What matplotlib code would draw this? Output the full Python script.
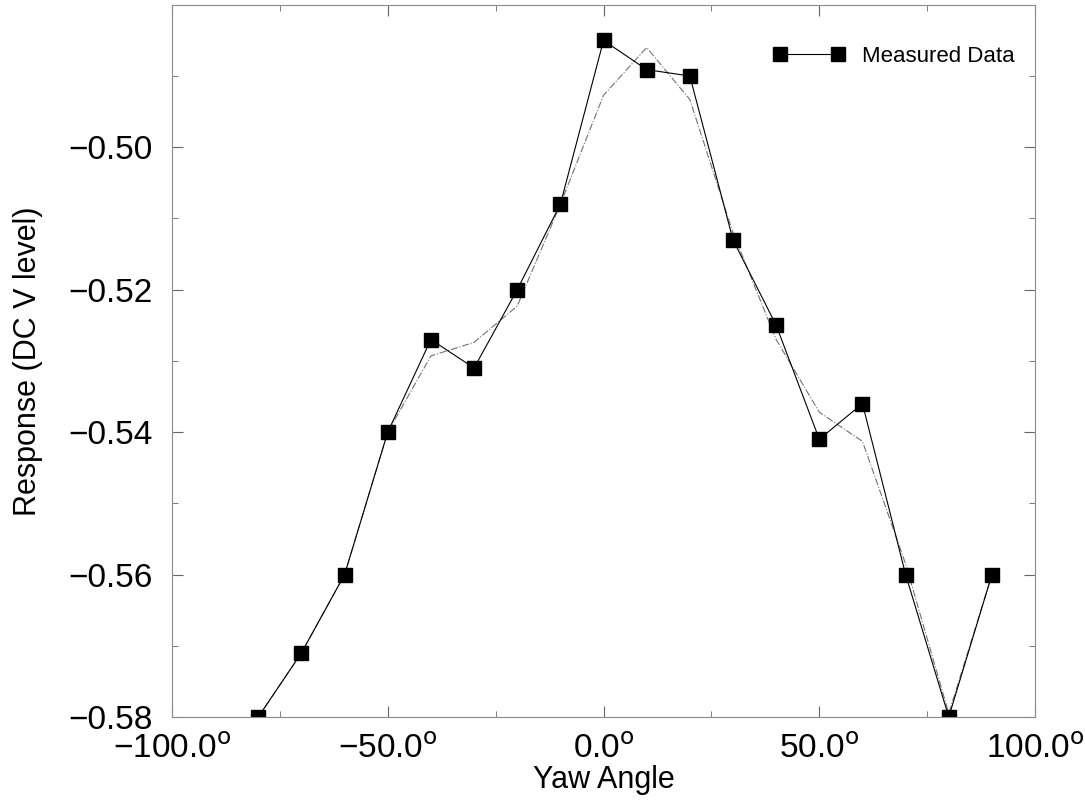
import numpy as np
import matplotlib.pyplot as plt
from matplotlib.ticker import MultipleLocator, FuncFormatter

plt.rcParams['font.family'] = ['Liberation Sans', 'DejaVu Sans']

yaw = [-80, -70, -60, -50, -40, -30, -20, -10, 0, 10, 20, 30, 40, 50, 60, 70, 80, 90]
measured = [-0.580, -0.571, -0.560, -0.540, -0.527, -0.531, -0.520, -0.508, -0.485,
            -0.4891, -0.4900, -0.513, -0.525, -0.541, -0.536, -0.560, -0.580, -0.560]
fit = [-0.580, -0.571, -0.560, -0.540, -0.5293, -0.5274, -0.5223, -0.508, -0.4927,
       -0.4860, -0.4933, -0.512, -0.527, -0.5372, -0.5413, -0.5585, -0.5795, -0.560]

fig = plt.figure(figsize=(10.85, 8.02), dpi=100)
ax = fig.add_axes([0.1585, 0.106, 0.7955, 0.888])

ax.plot(yaw, fit, ls='-.', color='0.45', lw=0.8)
ax.plot(yaw, measured, 's-', color='black', lw=0.8, ms=10, label='Measured Data')

ax.set_xlim(-100, 100)
ax.set_ylim(-0.58, -0.48)
ax.xaxis.set_major_locator(MultipleLocator(50))
ax.xaxis.set_minor_locator(MultipleLocator(25))
ax.set_yticks([-0.58, -0.56, -0.54, -0.52, -0.50])
ax.yaxis.set_minor_locator(MultipleLocator(0.01))
ax.xaxis.set_major_formatter(FuncFormatter(lambda v, p: f"{v:.1f}".replace('-', '\u2212') + r"$^{\rm o}$"))
ax.yaxis.set_major_formatter(FuncFormatter(lambda v, p: f"{v:.2f}".replace('-', '\u2212')))
ax.tick_params(which='both', direction='in', labelsize=24, color='0.4',
               top=True, right=True)
ax.tick_params(which='major', length=8)
ax.tick_params(which='minor', length=4)
ax.tick_params(axis='y', pad=14)
ax.tick_params(axis='x', pad=12)
for s in ax.spines.values():
    s.set_color('0.55')
    s.set_linewidth(0.8)

ax.set_xlabel('Yaw Angle', fontsize=22, labelpad=0)
ax.set_ylabel('Response (DC V level)', fontsize=22, labelpad=18)

ax.legend(loc='upper right', frameon=False, fontsize=16, numpoints=2,
          handlelength=3.2, bbox_to_anchor=(1.0, 0.97))

fig.savefig('out.png', dpi=100)
